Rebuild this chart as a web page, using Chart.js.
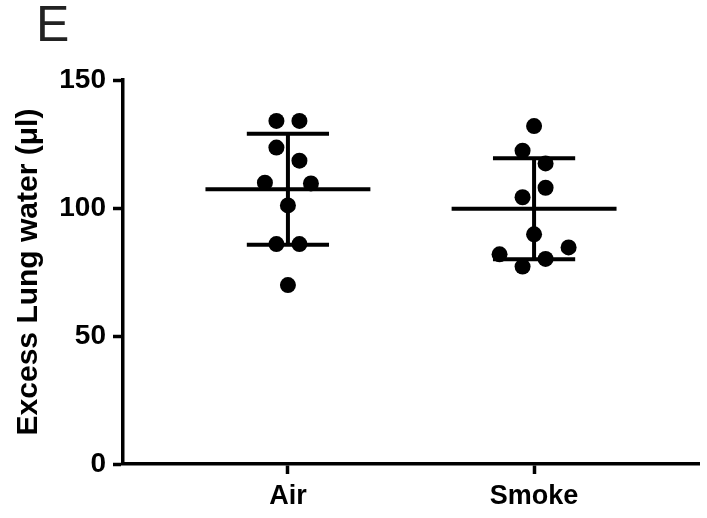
<!DOCTYPE html>
<html>
<head>
<meta charset="utf-8">
<script src="https://cdn.jsdelivr.net/npm/chart.js@4.4.1/dist/chart.umd.min.js"></script>
<style>
html,body{margin:0;padding:0;background:#fff;}
#c{display:block;}
</style>
</head>
<body>
<canvas id="c" width="707" height="518"></canvas>
<script>
// ---- data ----
const categories = ["Air", "Smoke"];
const airValues = [134.0, 134.0, 123.6, 118.5, 109.9, 109.6, 101.0, 85.9, 85.9, 69.9];
const smokeValues = [132.0, 122.4, 117.4, 107.9, 104.2, 89.7, 84.6, 81.9, 80.1, 77.1];
// scatter (beeswarm) offsets, in dot-widths
const airSwarm = [-0.5, 0.5, -0.5, 0.5, -1, 1, 0, -0.5, 0.5, 0];
const smokeSwarm = [0, -0.5, 0.5, 0.5, -0.5, 0, 1.5, -1.5, 0.5, -0.5];
const groupMeans = [107.3, 99.7];
const groupSD = [21.7, 19.7];
const yTicks = [0, 50, 100, 150];
const panelLetter = "E";
const yTitle = "Excess Lung water (\u03bcl)";

// ---- layout constants (not data) ----
const swarmUnit = 0.0935;   // x-units per dot width
const meanHalf = 0.335;
const capHalf = 0.167;
const FONT = "'Liberation Sans', Arial, Helvetica, sans-serif";

function pts(values, swarm, center) {
  return values.map((v, i) => ({ x: center + swarm[i] * swarmUnit, y: v }));
}
function meanSdLines(i) {
  const c = i + 1, m = groupMeans[i], s = groupSD[i];
  return [
    { x: c - meanHalf, y: m }, { x: c + meanHalf, y: m }, { x: NaN, y: NaN },
    { x: c, y: m - s }, { x: c, y: m + s }, { x: NaN, y: NaN },
    { x: c - capHalf, y: m + s }, { x: c + capHalf, y: m + s }, { x: NaN, y: NaN },
    { x: c - capHalf, y: m - s }, { x: c + capHalf, y: m - s }
  ];
}

const lineDs = (i) => ({
  type: 'scatter', data: meanSdLines(i), showLine: true, spanGaps: false,
  borderColor: '#000', borderWidth: 4, pointRadius: 0, borderCapStyle: 'butt', order: 1
});
const dotDs = (vals, sw, c) => ({
  type: 'scatter', data: pts(vals, sw, c), pointRadius: 8, pointBorderWidth: 0,
  backgroundColor: '#000', borderColor: '#000', pointHoverRadius: 8, order: 2
});

const letterPlugin = {
  id: 'letter',
  afterDraw(chart) {
    const ctx = chart.ctx;
    ctx.save();
    ctx.font = "normal 50px " + FONT;
    ctx.fillStyle = '#222';
    ctx.textBaseline = 'alphabetic';
    ctx.textAlign = 'left';
    ctx.fillText(panelLetter, 36, 41);
    ctx.restore();
  }
};

new Chart(document.getElementById('c'), {
  type: 'scatter',
  data: {
    datasets: [
      dotDs(airValues, airSwarm, 1),
      dotDs(smokeValues, smokeSwarm, 2),
      lineDs(0),
      lineDs(1)
    ]
  },
  options: {
    responsive: false,
    animation: false,
    events: [],
    layout: { padding: { top: 80, right: 6, bottom: 0, left: 0 } },
    plugins: { legend: { display: false }, tooltip: { enabled: false }, title: { display: false } },
    scales: {
      x: {
        type: 'linear', min: 0.33, max: 2.67,
        afterBuildTicks(scale) { scale.ticks = [{ value: 1 }, { value: 2 }]; },
        afterFit(scale) { scale.height = 54; },
        ticks: {
          callback: (v) => categories[Math.round(v) - 1] ?? '',
          color: '#000', font: { family: FONT, size: 27, weight: 'bold' }, padding: 6, maxRotation: 0, autoSkip: false
        },
        grid: { display: true, drawOnChartArea: false, drawTicks: true, tickLength: 10, tickWidth: 3.5, tickColor: '#000' },
        border: { display: true, color: '#000', width: 3.5 }
      },
      y: {
        type: 'linear', min: 0, max: 150,
        afterBuildTicks(scale) { scale.ticks = yTicks.map(v => ({ value: v })); },
        afterFit(scale) { scale.width = 123; },
        ticks: { color: '#000', font: { family: FONT, size: 28, weight: 'bold' }, padding: 7 },
        grid: { display: true, drawOnChartArea: false, drawTicks: true, tickLength: 10, tickWidth: 3.5, tickColor: '#000' },
        border: { display: true, color: '#000', width: 3.5 },
        title: { display: true, text: yTitle, color: '#000', font: { family: FONT, size: 30, weight: 'bold' }, padding: { top: 11, bottom: 0 } }
      }
    }
  },
  plugins: [letterPlugin]
});
</script>
</body>
</html>
